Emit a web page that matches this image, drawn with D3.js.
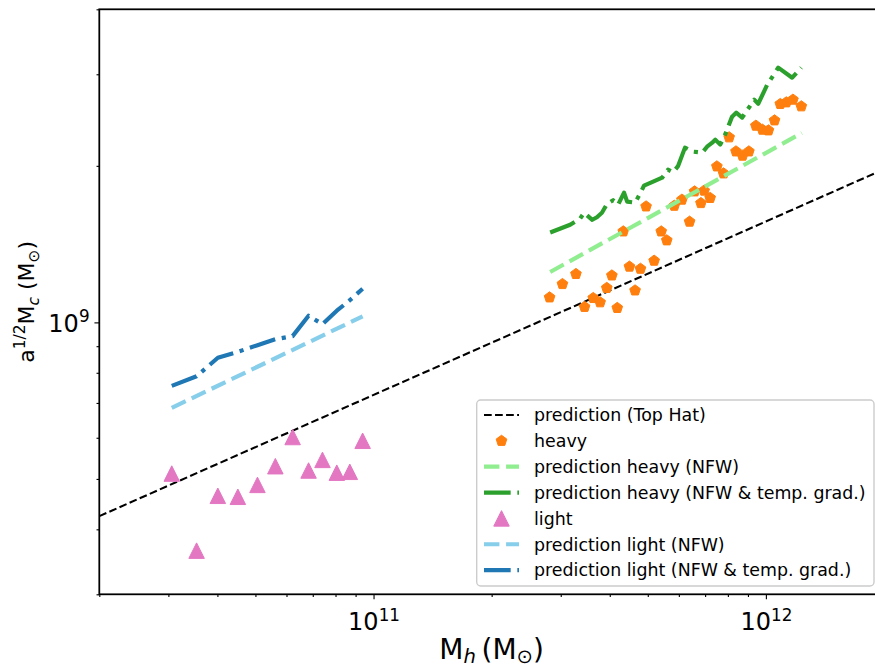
<!DOCTYPE html>
<html>
<head>
<meta charset="utf-8">
<script src="https://cdn.jsdelivr.net/npm/d3@7"></script>
<style>
  html, body { margin: 0; padding: 0; background: #fff; }
  svg { display: block; font-family: "DejaVu Sans", sans-serif; }
</style>
</head>
<body>
<script>
// Halo mass (M_sun) and a^{1/2} M_c (M_sun) for the two samples and their predictions.

// Top-hat prediction
const topHatM = [2e10, 2e12];
const topHatV = [4.24e8, 1.97e9];

// heavy sample
const heavyM = [2.81e11, 3.03e11, 3.28e11, 3.45e11, 3.63e11, 3.78e11, 3.93e11, 4.05e11, 4.18e11, 4.33e11,
                4.49e11, 4.64e11, 4.79e11, 4.95e11, 5.19e11, 5.41e11, 5.59e11, 5.84e11, 6.11e11, 6.39e11,
                6.58e11, 6.83e11, 6.96e11, 7.21e11, 7.50e11, 7.80e11, 8.06e11, 8.39e11, 8.72e11, 9.05e11,
                9.43e11, 9.80e11, 1.015e12, 1.052e12, 1.088e12, 1.127e12, 1.172e12, 1.231e12];
const heavyV = [1.117e9, 1.185e9, 1.239e9, 1.071e9, 1.114e9, 1.093e9, 1.165e9, 1.231e9, 1.066e9, 1.496e9,
                1.280e9, 1.152e9, 1.268e9, 1.671e9, 1.314e9, 1.496e9, 1.438e9, 1.676e9, 1.722e9, 1.562e9,
                1.786e9, 1.696e9, 1.792e9, 1.735e9, 1.995e9, 1.934e9, 2.269e9, 2.132e9, 2.092e9, 2.132e9,
                2.389e9, 2.347e9, 2.340e9, 2.446e9, 2.630e9, 2.649e9, 2.681e9, 2.603e9];

// heavy predictions
const heavyNfwM = [2.82e11, 1.235e12];
const heavyNfwV = [1.250e9, 2.313e9];
const heavyGradM = [2.82e11, 3.17e11, 3.36e11, 3.44e11, 3.61e11, 3.71e11, 3.82e11, 3.94e11, 4.08e11, 4.20e11,
                    4.35e11, 4.43e11, 4.64e11, 4.78e11, 4.89e11, 5.16e11, 5.44e11, 5.63e11, 5.80e11, 5.97e11,
                    6.22e11, 6.52e11, 6.88e11, 7.08e11, 7.30e11, 7.43e11, 7.65e11, 7.87e11, 8.20e11, 8.40e11,
                    8.70e11, 9.34e11, 9.56e11, 1.008e12, 1.075e12, 1.167e12, 1.231e12];
const heavyGradV = [1.489e9, 1.541e9, 1.582e9, 1.625e9, 1.575e9, 1.593e9, 1.625e9, 1.691e9, 1.718e9, 1.684e9,
                    1.776e9, 1.707e9, 1.699e9, 1.768e9, 1.832e9, 1.865e9, 1.898e9, 1.966e9, 1.944e9, 1.997e9,
                    2.168e9, 2.130e9, 2.120e9, 2.177e9, 2.216e9, 2.246e9, 2.197e9, 2.296e9, 2.487e9, 2.531e9,
                    2.476e9, 2.681e9, 2.633e9, 2.865e9, 3.089e9, 2.955e9, 3.089e9];

// light sample
const lightM = [3.06e10, 3.54e10, 4.01e10, 4.51e10, 5.06e10, 5.62e10, 6.22e10, 6.83e10, 7.41e10, 8.06e10, 8.70e10, 9.38e10];
const lightV = [5.12e8, 3.64e8, 4.64e8, 4.62e8, 4.87e8, 5.29e8, 6.02e8, 5.19e8, 5.44e8, 5.14e8, 5.16e8, 5.92e8];

// light predictions
const lightNfwM = [3.06e10, 9.38e10];
const lightNfwV = [6.85e8, 1.027e9];
const lightGradV = [7.55e8, 7.88e8, 8.55e8, 8.78e8, 9.04e8, 9.28e8, 9.41e8, 1.030e9, 9.92e8, 1.053e9, 1.103e9, 1.161e9];

// axis ticks
const xMajor = [1e11, 1e12];
const xMinor = [2e10, 3e10, 4e10, 5e10, 6e10, 7e10, 8e10, 9e10, 2e11, 3e11, 4e11, 5e11, 6e11, 7e11, 8e11, 9e11, 2e12];
const yMajor = [1e9];
const yMinor = [3e8, 4e8, 5e8, 6e8, 7e8, 8e8, 9e8, 2e9, 3e9, 4e9];

const legendLabels = [
  "prediction (Top Hat)", "heavy", "prediction heavy (NFW)", "prediction heavy (NFW & temp. grad.)",
  "light", "prediction light (NFW)", "prediction light (NFW & temp. grad.)"
];

const W = 875, H = 670;
const L = 99.3, R = 884, T = 9.3, B = 594.3;
const px = 100 / 72; // pixels per point at 100 dpi

const svg = d3.select("body").append("svg").attr("width", W).attr("height", H);

const x = d3.scaleLog().domain([2e10, 2e12]).range([L, R]);
const y = d3.scaleLog().domain([3e8, 4e9]).range([B, T]);

const zip = (a, b) => a.map((v, i) => [v, b[i]]);
const line = d3.line().x(d => x(d[0])).y(d => y(d[1]));

const C = {
  black: "#000000", orange: "#ff7f0e", lgreen: "#90ee90", green: "#2ca02c",
  pink: "#e377c2", sky: "#87ceeb", blue: "#1f77b4"
};

const lwThin = 1.5 * px, lwThick = 3 * px;
const dashTH = [3.7 * lwThin, 1.6 * lwThin].join(",");
const dashNfw = [3.7 * lwThick, 1.6 * lwThick].join(",");
const dashDot = [6.4 * lwThick, 1.6 * lwThick, 1 * lwThick, 1.6 * lwThick].join(",");

svg.append("defs").append("clipPath").attr("id", "plotclip")
  .append("rect").attr("x", L).attr("y", T).attr("width", R - L).attr("height", B - T);

const plot = svg.append("g").attr("clip-path", "url(#plotclip)");

// marker shapes
function pentagonPath(r) {
  const pts = d3.range(5).map(i => {
    const a = -Math.PI / 2 + i * 2 * Math.PI / 5;
    return [r * Math.cos(a), r * Math.sin(a)];
  });
  return "M" + pts.map(p => p[0].toFixed(2) + "," + p[1].toFixed(2)).join("L") + "Z";
}
function trianglePath(s) {
  const h = s / 2;
  return `M0,${-h}L${-h},${h}L${h},${h}Z`;
}
const pentR = 5.6, triS = 15.5;

function drawLine(g, data, color, lw, dash) {
  g.append("path").datum(data).attr("d", line)
    .attr("fill", "none").attr("stroke", color).attr("stroke-width", lw)
    .attr("stroke-dasharray", dash).attr("stroke-linecap", "butt").attr("stroke-linejoin", "round");
}

// Top-hat prediction
drawLine(plot, zip(topHatM, topHatV), C.black, lwThin, dashTH);

// heavy sample and its predictions
plot.append("g").selectAll("path").data(zip(heavyM, heavyV)).join("path")
  .attr("transform", d => `translate(${x(d[0])},${y(d[1])})`)
  .attr("d", pentagonPath(pentR)).attr("fill", C.orange).attr("stroke", C.orange).attr("stroke-width", 1);
drawLine(plot, zip(heavyNfwM, heavyNfwV), C.lgreen, lwThick, dashNfw);
drawLine(plot, zip(heavyGradM, heavyGradV), C.green, lwThick, dashDot);

// light sample and its predictions
plot.append("g").selectAll("path").data(zip(lightM, lightV)).join("path")
  .attr("transform", d => `translate(${x(d[0])},${y(d[1])})`)
  .attr("d", trianglePath(triS)).attr("fill", C.pink).attr("stroke", C.pink).attr("stroke-width", 1);
drawLine(plot, zip(lightNfwM, lightNfwV), C.sky, lwThick, dashNfw);
drawLine(plot, zip(lightM, lightGradV), C.blue, lwThick, dashDot);

// axes
const tickFont = 24;
const majLen = 3.5 * px, minLen = 2 * px, tickW = 0.8 * px;

function supLabel(sel, base, exp, fs) {
  sel.text(null);
  sel.append("tspan").text(base);
  sel.append("tspan").text(exp).attr("font-size", fs * 0.7).attr("dy", -fs * 0.4);
}

const gx = svg.append("g").attr("transform", `translate(0,${B})`);
gx.call(d3.axisBottom(x).tickValues(xMinor).tickSize(minLen).tickFormat(""));
gx.selectAll(".tick line").attr("stroke-width", tickW);
const gxM = svg.append("g").attr("transform", `translate(0,${B})`);
gxM.call(d3.axisBottom(x).tickValues(xMajor).tickSize(majLen).tickPadding(0).tickFormat(d => "10"));
gxM.selectAll(".tick line").attr("stroke-width", tickW);
gxM.selectAll(".tick text").attr("font-size", tickFont).attr("font-family", "DejaVu Sans")
  .attr("y", 36).attr("dy", 0)
  .each(function (d) { supLabel(d3.select(this), "10", String(Math.round(Math.log10(d))), tickFont); });

const gy = svg.append("g").attr("transform", `translate(${L},0)`);
gy.call(d3.axisLeft(y).tickValues(yMinor).tickSize(minLen).tickFormat(""));
gy.selectAll(".tick line").attr("stroke-width", tickW);
const gyM = svg.append("g").attr("transform", `translate(${L},0)`);
gyM.call(d3.axisLeft(y).tickValues(yMajor).tickSize(majLen).tickPadding(3.5 * px).tickFormat(d => "10"));
gyM.selectAll(".tick line").attr("stroke-width", tickW);
gyM.selectAll(".tick text").attr("font-size", tickFont).attr("font-family", "DejaVu Sans")
  .attr("dy", 9)
  .each(function (d) { supLabel(d3.select(this), "10", String(Math.round(Math.log10(d))), tickFont); });

svg.selectAll(".domain").remove();

// spines
const spineW = 0.8 * px * 1.6;
svg.append("rect").attr("x", L).attr("y", T).attr("width", R - L).attr("height", B - T)
  .attr("fill", "none").attr("stroke", "#000").attr("stroke-width", spineW);

// axis labels
const xfs = 28;
const xl = svg.append("text").attr("x", (L + R) / 2).attr("y", 659)
  .attr("text-anchor", "middle").attr("font-size", xfs);
xl.append("tspan").text("M");
xl.append("tspan").text("h").attr("font-style", "italic").attr("font-size", xfs * 0.7).attr("dy", 4);
xl.append("tspan").text("\u2009(M").attr("font-size", xfs).attr("dy", -4);
xl.append("tspan").text("\u2299").attr("font-size", xfs * 0.7).attr("dy", 4);
xl.append("tspan").text(")").attr("font-size", xfs).attr("dy", -4);

const yfs = 22;
const yl = svg.append("text").attr("transform", `translate(34,${(T + B) / 2}) rotate(-90)`)
  .attr("text-anchor", "middle").attr("font-size", yfs);
yl.append("tspan").text("a");
yl.append("tspan").text("1/2").attr("font-size", yfs * 0.7).attr("dy", -yfs * 0.42);
yl.append("tspan").text("M").attr("font-size", yfs).attr("dy", yfs * 0.42);
yl.append("tspan").text("c").attr("font-style", "italic").attr("font-size", yfs * 0.7).attr("dy", 4.5);
yl.append("tspan").text(" (M").attr("font-size", yfs).attr("dy", -4.5);
yl.append("tspan").text("\u2299").attr("font-size", yfs * 0.7).attr("dy", 4.5);
yl.append("tspan").text(")").attr("font-size", yfs).attr("dy", -4.5);

// legend
const lg = svg.append("g");
lg.append("rect").attr("x", 476.7).attr("y", 400).attr("width", 397.3).attr("height", 186)
  .attr("rx", 4).attr("fill", "#fff").attr("fill-opacity", 0.8)
  .attr("stroke", "#cccccc").attr("stroke-width", 1.4);

const legFont = 17.4;
const rowY = i => 415 + i * 25.85;
const hx0 = 484, hx1 = 519, tx = 534;
const handles = [
  { type: "line", color: C.black, lw: lwThin, dash: dashTH },
  { type: "pent", color: C.orange },
  { type: "line", color: C.lgreen, lw: lwThick, dash: dashNfw },
  { type: "line", color: C.green, lw: lwThick, dash: dashDot },
  { type: "tri", color: C.pink },
  { type: "line", color: C.sky, lw: lwThick, dash: dashNfw },
  { type: "line", color: C.blue, lw: lwThick, dash: dashDot }
];
handles.forEach((h, i) => {
  const cy = rowY(i);
  if (h.type === "line") {
    lg.append("line").attr("x1", hx0).attr("x2", hx1).attr("y1", cy).attr("y2", cy)
      .attr("stroke", h.color).attr("stroke-width", h.lw).attr("stroke-dasharray", h.dash);
  } else if (h.type === "pent") {
    lg.append("path").attr("transform", `translate(${(hx0 + hx1) / 2},${cy})`)
      .attr("d", pentagonPath(pentR)).attr("fill", h.color).attr("stroke", h.color);
  } else {
    lg.append("path").attr("transform", `translate(${(hx0 + hx1) / 2},${cy})`)
      .attr("d", trianglePath(triS)).attr("fill", h.color).attr("stroke", h.color);
  }
  lg.append("text").attr("x", tx).attr("y", cy).attr("dy", "0.36em")
    .attr("font-size", legFont).attr("fill", "#000").text(legendLabels[i]);
});
</script>
</body>
</html>
